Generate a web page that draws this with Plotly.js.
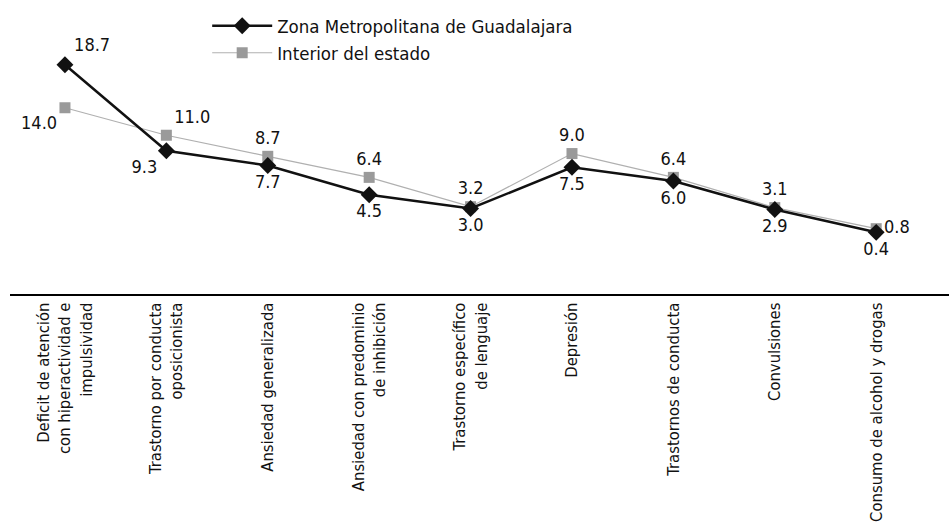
<!DOCTYPE html>
<html>
<head>
<meta charset="utf-8">
<script src="https://cdn.plot.ly/plotly-3.0.1.min.js"></script>
<style>html,body{margin:0;padding:0;background:#fff;}#chart{width:949px;height:527px;}</style>
</head>
<body>
<div id="chart"></div>
<script>
var categories = [
  "Deficit de atención<br>con hiperactividad e<br>impulsividad",
  "Trastorno por conducta<br>oposicionista",
  "Ansiedad generalizada",
  "Ansiedad con predominio<br>de inhibición",
  "Trastorno específico<br>de lenguaje",
  "Depresión",
  "Trastornos de conducta",
  "Convulsiones",
  "Consumo de alcohol y drogas"
];
var zmgName = "Zona Metropolitana de Guadalajara";
var intName = "Interior del estado";
var zmgValues = [18.7, 9.3, 7.7, 4.5, 3.0, 7.5, 6.0, 2.9, 0.4];
var intValues = [14.0, 11.0, 8.7, 6.4, 3.2, 9.0, 6.4, 3.1, 0.8];
var zmgTextPos = ["top right","bottom left","bottom center","bottom center","bottom center","bottom center","bottom center","bottom center","bottom center"];
var intTextPos = ["bottom left","top right","top center","top center","top center","top center","top center","top center","middle right"];

var FONT = "DejaVu Sans Condensed, Liberation Sans Narrow, sans-serif";
var idx = categories.map(function(_, i){ return i; });

var traces = [
  {
    x: idx, y: intValues, name: intName, legendrank: 2,
    type: "scatter", mode: "lines+markers+text",
    text: intValues.map(function(v){ return v.toFixed(1); }),
    textposition: intTextPos,
    textfont: {family: FONT, size: 18, color: "#111"},
    line: {color: "#b0b0b0", width: 1.2},
    marker: {symbol: "square", size: 11, color: "#9a9a9a"},
    cliponaxis: false
  },
  {
    x: idx, y: zmgValues, name: zmgName, legendrank: 1,
    type: "scatter", mode: "lines+markers+text",
    text: zmgValues.map(function(v){ return v.toFixed(1); }),
    textposition: zmgTextPos,
    textfont: {family: FONT, size: 18, color: "#111"},
    line: {color: "#111", width: 2.5},
    marker: {symbol: "diamond", size: 13, color: "#111"},
    cliponaxis: false
  }
];

var layout = {
  width: 949, height: 527,
  margin: {l: 10, r: 0, t: 10, b: 233},
  paper_bgcolor: "#fff", plot_bgcolor: "#fff",
  font: {family: FONT, color: "#111"},
  showlegend: true,
  legend: {x: 0.21, xanchor: "left", y: 1.01, yanchor: "top",
           font: {family: FONT, size: 18.5, color: "#111"},
           itemwidth: 60,
           bgcolor: "rgba(0,0,0,0)", tracegroupgap: 0},
  xaxis: {
    range: [-0.542, 8.718],
    tickmode: "array", tickvals: idx, ticktext: categories,
    tickangle: -90, ticks: "",
    tickfont: {family: FONT, size: 16.5, color: "#111"},
    showline: true, linecolor: "#000", linewidth: 2,
    showgrid: false, zeroline: false, fixedrange: true
  },
  yaxis: {
    range: [-6.33, 24.67],
    showticklabels: false, ticks: "", showgrid: false,
    zeroline: false, showline: false, fixedrange: true
  }
};

Plotly.newPlot("chart", traces, layout, {displayModeBar: false, staticPlot: true});
</script>
</body>
</html>
